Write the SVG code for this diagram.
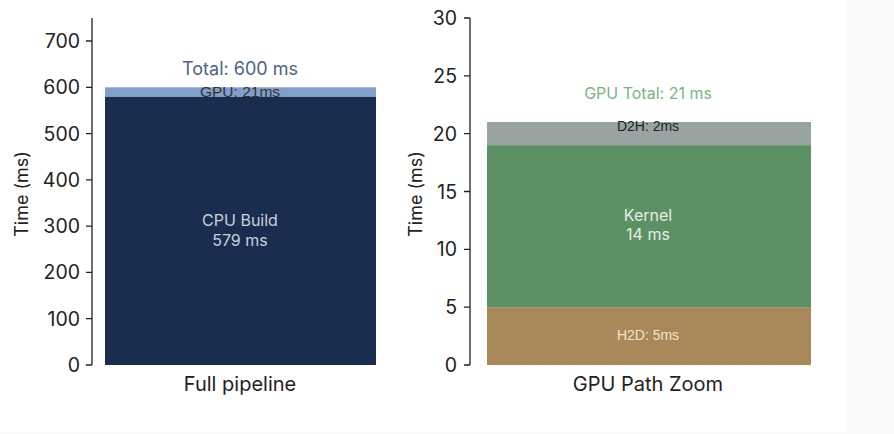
<svg xmlns="http://www.w3.org/2000/svg" width="894" height="434" viewBox="0 0 894 434">
<style>
text{font-family:Inter,"Open Sans","Liberation Sans",sans-serif}
.tick{font-size:19.5px;fill:#222;text-anchor:end}
.ax{stroke:#222;stroke-width:1.3;fill:none}
.xl{font-size:20px;fill:#222;text-anchor:middle}
.yl{font-size:18px;fill:#222;text-anchor:middle}
.in{font-size:16px;text-anchor:middle}
.sm{font-family:"Liberation Sans",Arial,sans-serif;font-size:14px;text-anchor:middle}
</style>
<rect x="0" y="0" width="894" height="434" fill="#f8f9fb"/>
<rect x="0" y="0" width="847" height="432" fill="#ffffff"/>

<g id="left-chart">
  <g id="left-axis">
    <path class="ax" d="M92,18V365M86,365H92M86,318.7H92M86,272.4H92M86,226.1H92M86,179.8H92M86,133.6H92M86,87.3H92M86,41H92"/>
    <text class="tick" x="80" y="372">0</text>
    <text class="tick" x="80" y="325.7">100</text>
    <text class="tick" x="80" y="279.4">200</text>
    <text class="tick" x="80" y="233.1">300</text>
    <text class="tick" x="80" y="186.8">400</text>
    <text class="tick" x="80" y="140.6">500</text>
    <text class="tick" x="80" y="94.3">600</text>
    <text class="tick" x="80" y="48">700</text>
    <text class="yl" transform="translate(28,194) rotate(-90)">Time (ms)</text>
    <text class="xl" x="240" y="391">Full pipeline</text>
  </g>
  <g id="cpu-build">
    <rect x="105" y="97" width="271" height="268" fill="#1b2d4f"/>
    <text class="in" x="240" y="226" fill="#c8d0dc">CPU Build</text>
    <text class="in" x="240" y="246" fill="#c8d0dc">579 ms</text>
  </g>
  <g id="gpu">
    <rect x="105" y="87.3" width="271" height="9.7" fill="#809fca"/>
    <text class="sm" x="240" y="96.5" fill="#333" style="font-size:15.5px">GPU: 21ms</text>
  </g>
  <text id="total" class="in" x="240" y="75" fill="#4d6383" style="font-size:18px">Total: 600 ms</text>
</g>

<g id="right-chart">
  <g id="right-axis">
    <path class="ax" d="M470,18V365M464,365H470M464,307.2H470M464,249.3H470M464,191.5H470M464,133.7H470M464,75.8H470M464,18H470"/>
    <text class="tick" x="457" y="372">0</text>
    <text class="tick" x="457" y="314.2">5</text>
    <text class="tick" x="457" y="256.3">10</text>
    <text class="tick" x="457" y="198.5">15</text>
    <text class="tick" x="457" y="140.7">20</text>
    <text class="tick" x="457" y="82.8">25</text>
    <text class="tick" x="457" y="25">30</text>
    <text class="yl" transform="translate(422,194) rotate(-90)">Time (ms)</text>
    <text class="xl" x="648" y="391">GPU Path Zoom</text>
  </g>
  <g id="h2d">
    <rect x="487" y="307.2" width="324" height="57.8" fill="#a9885a"/>
    <text class="sm" x="648" y="340" fill="#f0e4d0">H2D: 5ms</text>
  </g>
  <g id="kernel">
    <rect x="487" y="145.1" width="324" height="162.1" fill="#5c9166"/>
    <text class="in" x="648" y="221" fill="#e2eee2">Kernel</text>
    <text class="in" x="648" y="240" fill="#e2eee2">14 ms</text>
  </g>
  <g id="d2h">
    <rect x="487" y="122" width="324" height="23.1" fill="#98a3a2"/>
    <text class="sm" x="648" y="130.5" fill="#222">D2H: 2ms</text>
  </g>
  <text id="gpu-total" class="in" x="648" y="99" fill="#79b583">GPU Total: 21 ms</text>
</g>
</svg>
